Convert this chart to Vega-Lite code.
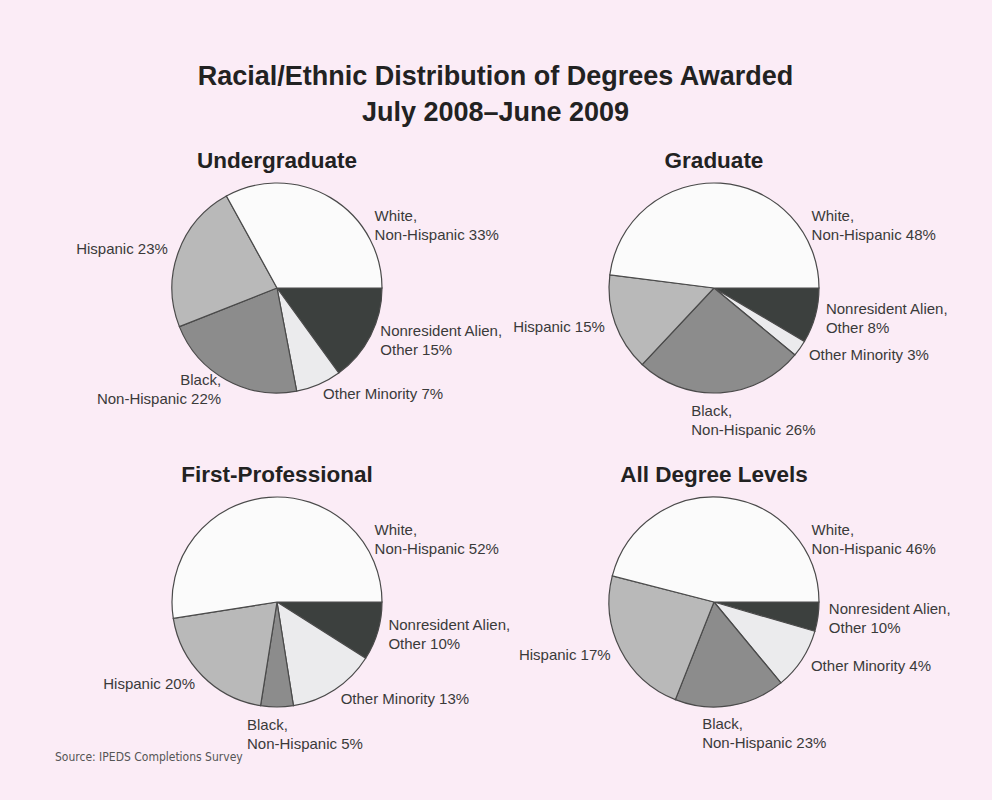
{
  "$schema": "https://vega.github.io/schema/vega-lite/v6.json",
  "background": "#fbecf6",
  "padding": {"left": 55, "top": 62, "right": 50, "bottom": 40},
  "title": {
    "text": "Source: IPEDS Completions Survey",
    "orient": "bottom",
    "anchor": "start",
    "frame": "group",
    "dx": -72,
    "offset": 0,
    "font": "DejaVu Sans Condensed",
    "fontSize": 12,
    "fontWeight": "normal",
    "color": "#555555",
    "baseline": "top"
  },
  "vconcat": [
    {
      "title": {
        "text": ["Racial/Ethnic Distribution of Degrees Awarded", "July 2008–June 2009"],
        "font": "Liberation Sans",
        "fontSize": 27,
        "fontWeight": "bold",
        "lineHeight": 36,
        "color": "#222222",
        "anchor": "start",
        "align": "center",
        "frame": "group",
        "dx": 368.5,
        "offset": 23
      },
      "data": {
        "values": [
          {"level": "Undergraduate", "category": "Nonresident Alien, Other", "k": 1, "value": 15, "label": "Nonresident Alien,\nOther 15%"},
          {"level": "Undergraduate", "category": "Other Minority", "k": 2, "value": 7, "label": "Other Minority 7%"},
          {"level": "Undergraduate", "category": "Black, Non-Hispanic", "k": 3, "value": 22, "label": "Black,\nNon-Hispanic 22%"},
          {"level": "Undergraduate", "category": "Hispanic", "k": 4, "value": 23, "label": "Hispanic 23%"},
          {"level": "Undergraduate", "category": "White", "k": 5, "value": 33, "label": "White,\nNon-Hispanic 33%"},
          {"level": "Graduate", "category": "Nonresident Alien, Other", "k": 1, "value": 8.5, "label": "Nonresident Alien,\nOther 8%"},
          {"level": "Graduate", "category": "Other Minority", "k": 2, "value": 2.5, "label": "Other Minority 3%"},
          {"level": "Graduate", "category": "Black, Non-Hispanic", "k": 3, "value": 26, "label": "Black,\nNon-Hispanic 26%"},
          {"level": "Graduate", "category": "Hispanic", "k": 4, "value": 15, "label": "Hispanic 15%"},
          {"level": "Graduate", "category": "White", "k": 5, "value": 48, "label": "White,\nNon-Hispanic 48%"},
          {"level": "First-Professional", "category": "Nonresident Alien, Other", "k": 1, "value": 9, "label": "Nonresident Alien,\nOther 10%"},
          {"level": "First-Professional", "category": "Other Minority", "k": 2, "value": 13.5, "label": "Other Minority 13%"},
          {"level": "First-Professional", "category": "Black, Non-Hispanic", "k": 3, "value": 5, "label": "Black,\nNon-Hispanic 5%"},
          {"level": "First-Professional", "category": "Hispanic", "k": 4, "value": 20, "label": "Hispanic 20%"},
          {"level": "First-Professional", "category": "White", "k": 5, "value": 52.5, "label": "White,\nNon-Hispanic 52%"},
          {"level": "All Degree Levels", "category": "Nonresident Alien, Other", "k": 1, "value": 4.5, "label": "Nonresident Alien,\nOther 10%"},
          {"level": "All Degree Levels", "category": "Other Minority", "k": 2, "value": 9.5, "label": "Other Minority 4%"},
          {"level": "All Degree Levels", "category": "Black, Non-Hispanic", "k": 3, "value": 17, "label": "Black,\nNon-Hispanic 23%"},
          {"level": "All Degree Levels", "category": "Hispanic", "k": 4, "value": 23, "label": "Hispanic 17%"},
          {"level": "All Degree Levels", "category": "White", "k": 5, "value": 46, "label": "White,\nNon-Hispanic 46%"}
        ]
      },
      "facet": {
        "field": "level",
        "type": "nominal",
        "sort": ["Undergraduate", "Graduate", "First-Professional", "All Degree Levels"],
        "header": {
          "title": null,
          "labelFont": "Liberation Sans",
          "labelFontSize": 22.5,
          "labelFontWeight": "bold",
          "labelColor": "#222222",
          "labelPadding": 6
        }
      },
      "columns": 2,
      "spacing": {"column": 137, "row": 94},
      "bounds": "flush",
      "spec": {
        "width": 300,
        "height": 220,
        "layer": [
          {
            "mark": {"type": "arc", "outerRadius": 105, "stroke": "#4a4a4a", "strokeWidth": 1.2},
            "encoding": {
              "theta": {"field": "value", "type": "quantitative", "stack": true,
                "scale": {"domain": [0, 100], "range": [1.5707963267948966, 7.853981633974483]}},
              "order": {"field": "k", "type": "quantitative"},
              "color": {"field": "category", "type": "nominal",
                "scale": {"domain": ["White", "Hispanic", "Black, Non-Hispanic", "Other Minority", "Nonresident Alien, Other"],
                  "range": ["#fbfbfb", "#b9b9b9", "#8c8c8c", "#ebebed", "#3c403e"]},
                "legend": null}
            }
          },
          {
            "transform": [{"filter": "datum.category != 'White'"}],
            "mark": {
              "type": "text",
              "radius": 116,
              "lineBreak": "\n",
              "font": "Liberation Sans",
              "fontSize": 15,
              "lineHeight": 19,
              "color": "#3a3a3a",
              "align": {"expr": "cos(PI*(datum.value_start+datum.value_end)/100) < -0.2 ? 'right' : 'left'"},
              "baseline": {"expr": "abs(cos(PI*(datum.value_start+datum.value_end)/100)) <= 0.2 ? 'top' : 'middle'"},
              "dx": {"expr": "abs(cos(PI*(datum.value_start+datum.value_end)/100)) <= 0.2 ? -30 : 0"},
              "dy": {"expr": "(indexof(datum.label, '\\n') >= 0 && abs(cos(PI*(datum.value_start+datum.value_end)/100)) > 0.2) ? -9.5 : 0"}
            },
            "encoding": {
              "theta": {"field": "value", "type": "quantitative", "stack": true},
              "order": {"field": "k", "type": "quantitative"},
              "detail": {"field": "category", "type": "nominal"},
              "text": {"field": "label", "type": "nominal"}
            }
          },
          {
            "transform": [{"filter": "datum.category == 'White'"}],
            "mark": {
              "type": "text",
              "theta": 1.0,
              "radius": 116,
              "lineBreak": "\n",
              "font": "Liberation Sans",
              "fontSize": 15,
              "lineHeight": 19,
              "color": "#3a3a3a",
              "align": "left",
              "baseline": "middle",
              "dy": -9.5
            },
            "encoding": {
              "text": {"field": "label", "type": "nominal"}
            }
          }
        ]
      }
    }
  ],
  "config": {"view": {"stroke": null}, "font": "Liberation Sans"}
}
